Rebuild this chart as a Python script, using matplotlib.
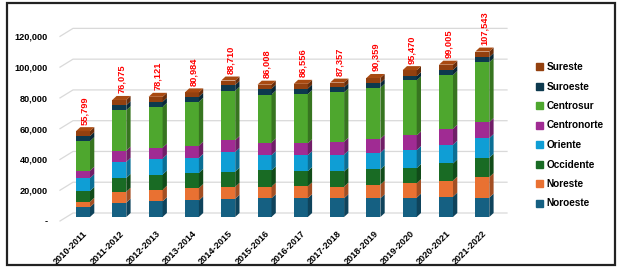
import numpy as np
import matplotlib
matplotlib.use("Agg")
import matplotlib.pyplot as plt
from matplotlib.colors import to_rgb
from matplotlib.patches import Patch, Rectangle

years = ["2010-2011", "2011-2012", "2012-2013", "2013-2014", "2014-2015", "2015-2016",
         "2016-2017", "2017-2018", "2018-2019", "2019-2020", "2020-2021", "2021-2022"]
totals = [55799, 76075, 78121, 80984, 88710, 86008, 86556, 87357, 90359, 95470, 99005, 107543]

# stacked from bottom to top
regions = ["Noroeste", "Noreste", "Occidente", "Oriente", "Centronorte", "Centrosur", "Suroeste", "Sureste"]
noroeste = [6400, 9300, 10200, 10800, 11900, 12200, 12200, 12200, 12200, 12600, 13300, 12600]
noreste = [3500, 7100, 7500, 8000, 7700, 7500, 7700, 7500, 8800, 9300, 10400, 13300]
occidente = [7000, 9000, 9900, 9900, 9900, 10600, 9900, 9900, 9900, 9900, 11100, 12600]
oriente = [8400, 10400, 10400, 9700, 12800, 9900, 10400, 11000, 10800, 11700, 12200, 12800]
centronorte = [4800, 7300, 7100, 8000, 7700, 8200, 7700, 8400, 9100, 9500, 10400, 10400]
centrosur = [19200, 26300, 26500, 28500, 32000, 31200, 32000, 32000, 33200, 35800, 34900, 38900]
suroeste = [3300, 3300, 3300, 3300, 3800, 3800, 3600, 3300, 3100, 2700, 3300, 3300]
sureste = [3199, 3375, 3221, 2784, 2910, 2608, 3056, 3057, 3259, 3970, 3405, 3643]

series = [noroeste, noreste, occidente, oriente, centronorte, centrosur, suroeste, sureste]
colors = ["#156082", "#E97132", "#196B24", "#0F9ED5", "#A02B93", "#4EA72E", "#0D394E", "#93400F"]


def shade(c, f):
    return tuple(min(1, v * f) for v in to_rgb(c))


plt.rcParams["font.family"] = ["Liberation Sans", "DejaVu Sans"]
plt.rcParams["font.weight"] = "bold"

fig = plt.figure(figsize=(6.23, 2.69), dpi=100)
W, H = 623, 269
ax = fig.add_axes([60 / W, 48 / H, 447 / W, 197 / H])

px_x = 1 / 36.3        # data units per pixel, x
px_y = 650             # data units per pixel, y
xlim = (-23 * px_x, 424 * px_x)
ylim = (0, 197 * px_y)
ax.set_xlim(*xlim)
ax.set_ylim(*ylim)

# back wall gridlines with slanted floor/wall start
gx, gy = 13 * px_x, 8 * px_y
yticks = np.arange(0, 120001, 20000)
for v in yticks:
    ax.plot([xlim[0], xlim[0] + gx, xlim[1]], [v, v + gy, v + gy],
            color="#D9D9D9", lw=0.9, zorder=0, clip_on=False)

# 3D-ish stacked bars
w = 14 * px_x
dx, dy = 4.3 * px_x, 4 * px_y
base = 4 * px_y
x = np.arange(len(years))
for i in x:
    b = base
    for s, c in zip(series, colors):
        h = s[i]
        ax.bar(i, h, w, bottom=b, color=c, lw=0, zorder=2)
        xr = i + w / 2
        ax.fill([xr, xr + dx, xr + dx, xr], [b, b + dy, b + h + dy, b + h],
                color=shade(c, 0.7), lw=0, zorder=2)
        b += h
    xl = i - w / 2
    ax.fill([xl, xl + dx, xl + w + dx, xl + w], [b, b + dy, b + dy, b],
            color=shade(colors[-1], 1.15), lw=0, zorder=2)
    ax.text(i + dx / 2, b + dy + 2.5 * px_y, f"{totals[i]:,}", rotation=90,
            ha="center", va="bottom", color="#FF0000", fontsize=6.7,
            fontweight="bold", clip_on=False)

ax.set_yticks(yticks)
ax.set_yticklabels(["-"] + [f"{v:,}" for v in yticks[1:]])
ax.set_xticks(x)
ax.set_xticklabels(years, rotation=45, ha="right", rotation_mode="anchor")
ax.tick_params(axis="y", length=0, pad=9, labelsize=6.6)
ax.tick_params(axis="x", length=0, pad=6, labelsize=6.6)
for sp in ax.spines.values():
    sp.set_visible(False)

handles = [Patch(color=c, label=r) for r, c in zip(regions, colors)][::-1]
fig.legend(handles=handles, loc="upper left", bbox_to_anchor=(531 / W, (H - 57) / H),
           frameon=False, fontsize=7.2, handlelength=0.7, handleheight=0.7,
           handletextpad=0.35, labelspacing=0.95, borderpad=0)

fig.add_artist(Rectangle((7 / W, 4 / H), 608 / W, 262 / H, transform=fig.transFigure,
                         fill=False, edgecolor="#222222", lw=1.6))

fig.savefig("out.png", dpi=100)
